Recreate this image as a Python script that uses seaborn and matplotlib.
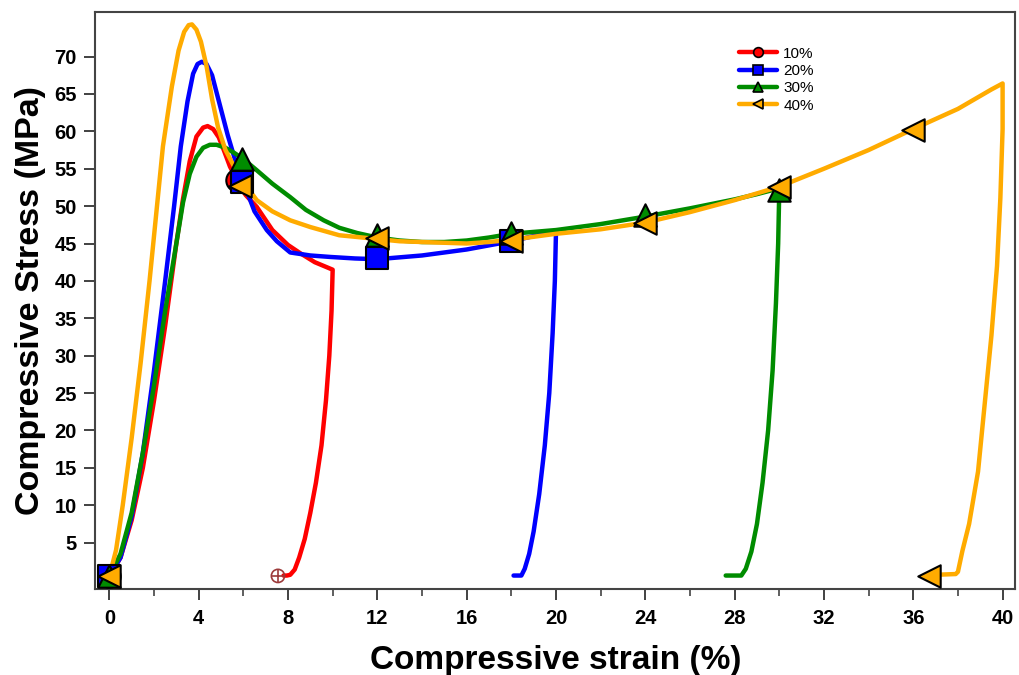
import numpy as np
import pandas as pd
import matplotlib
matplotlib.use("Agg")
import matplotlib.pyplot as plt
from matplotlib.lines import Line2D
from matplotlib.ticker import MultipleLocator, FixedLocator
import seaborn as sns

# ---------------- data ----------------
series_names = ["10%", "20%", "30%", "40%"]
series_colors = ["#ff0000", "#0000ff", "#008c00", "#ffab00"]
series_markers = ["o", "s", "^", "<"]

strain_10 = [0, 0.5, 1, 1.5, 2, 2.5, 3.0, 3.3, 3.6, 3.9, 4.2, 4.4, 4.65, 4.9, 5.15, 5.4, 5.7, 6.1, 6.6, 7.3, 8.0, 8.55, 9.2, 10.0,
             10.0, 9.95, 9.85, 9.7, 9.5, 9.25, 9.0, 8.75, 8.5, 8.3, 8.1, 7.95, 7.8]
stress_10 = [0.5, 3, 8, 15, 24, 34, 45, 51, 56, 59.3, 60.5, 60.7, 60.3, 59.2, 57.3, 55.3, 53.5, 51.5, 49.9, 46.8, 44.8, 43.7, 42.5, 41.5,
             41.5, 36, 30, 24, 18, 13, 9, 5.5, 3.0, 1.4, 0.7, 0.6, 0.6]

strain_20 = [0, 0.5, 1, 1.5, 2, 2.5, 2.9, 3.2, 3.5, 3.75, 3.95, 4.14, 4.35, 4.6, 4.95, 5.3, 5.65, 6.0, 6.5, 7.05, 7.5, 8.1, 9.0, 9.9, 11, 12,
             14, 16, 18, 19, 19.9, 20.0, 19.95, 19.85, 19.7, 19.5, 19.25, 19.0, 18.8, 18.6, 18.45, 18.1]
stress_20 = [0.5, 3, 8.5, 17, 28, 40, 50, 58, 64, 67.7, 69.0, 69.3, 69.0, 67.5, 63.5, 59.5, 56, 53.2, 49.3, 46.8, 45.3, 43.8, 43.4, 43.2, 43.0, 42.9,
             43.4, 44.2, 45.3, 46.0, 46.5, 46.5, 40, 33, 25, 18, 11.5, 6.5, 3.5, 1.5, 0.6, 0.6]

strain_30 = [0, 0.5, 1, 1.5, 2, 2.5, 3, 3.3, 3.6, 3.9, 4.2, 4.5, 4.8, 5.2, 5.6, 6.0, 6.6, 7.3, 8.1, 8.8, 9.6, 10.3, 11.1, 12,
             13, 14, 15, 16, 17, 18, 20, 22, 24, 26, 28, 29, 29.9,
             30.0, 29.95, 29.85, 29.7, 29.5, 29.25, 29.0, 28.75, 28.5, 28.3, 27.6]
stress_30 = [0.5, 3.5, 9, 17, 26, 36, 45, 50.5, 54.3, 56.6, 57.8, 58.2, 58.2, 57.8, 57.1, 56.3, 54.8, 53.0, 51.2, 49.5, 48.1, 47.1, 46.4, 45.8,
             45.4, 45.2, 45.2, 45.4, 45.8, 46.3, 46.8, 47.6, 48.6, 49.7, 50.9, 51.6, 52.3,
             52.3, 45, 37, 28, 20, 13, 7.5, 3.8, 1.5, 0.6, 0.6]

strain_40 = [0, 0.3, 0.6, 1.0, 1.4, 1.8, 2.1, 2.4, 2.8, 3.1, 3.35, 3.55, 3.7, 3.9, 4.1, 4.36, 4.6, 4.87, 5.2, 5.55, 6.0, 6.6, 7.3, 8.1, 9.0, 10.3,
             11, 12, 13, 14, 16, 17, 18, 20, 22, 24, 26, 28, 30, 32, 34, 36, 38, 39.5, 40.0,
             40.0, 39.9, 39.75, 39.5, 39.2, 38.9, 38.5, 38.2, 38.0, 37.9, 37.0]
stress_40 = [0.5, 4, 10, 19, 29, 40, 49, 58, 66, 70.8, 73.3, 74.2, 74.3, 73.6, 72, 68.6, 64.3, 60.5, 57.5, 55.5, 53.2, 50.8, 49.3, 48.1, 47.2, 46.1,
             45.9, 45.6, 45.3, 45.2, 45.0, 45.2, 45.5, 46.3, 46.9, 47.8, 49.2, 50.8, 52.6, 55.0, 57.5, 60.3, 63.0, 65.6, 66.4,
             60.3, 51.1, 42.0, 32.7, 23.6, 14.5, 7.5, 3.9, 1.1, 0.8, 0.7]

# marker positions
mark_x_10 = [0, 5.7]
mark_y_10 = [0.5, 53.5]
mark_x_20 = [0, 5.94, 12, 18]
mark_y_20 = [0.5, 53.2, 43.1, 45.3]
mark_x_30 = [0, 5.94, 12, 18, 24, 30]
mark_y_30 = [0.5, 56.3, 46.2, 46.4, 48.8, 52.2]
mark_x_40 = [0, 5.85, 12, 18, 24, 30, 36, 36.7]
mark_y_40 = [0.5, 52.7, 45.8, 45.4, 47.8, 52.6, 60.2, 0.6]

end_mark_x = [7.55]
end_mark_y = [0.55]

x_ticks = [0, 4, 8, 12, 16, 20, 24, 28, 32, 36, 40]
y_ticks = [5, 10, 15, 20, 25, 30, 35, 40, 45, 50, 55, 60, 65, 70]

# ---------------- plot ----------------
sns.set_theme(style="ticks")
plt.rcParams["font.family"] = ["Liberation Sans", "DejaVu Sans"]
plt.rcParams["text.color"] = "black"
plt.rcParams["axes.labelcolor"] = "black"

fig = plt.figure(figsize=(10.19, 6.75), dpi=100)
ax = fig.add_axes([0.0935, 0.1274, 0.9029, 0.8553])

curves = [(strain_10, stress_10), (strain_20, stress_20), (strain_30, stress_30), (strain_40, stress_40)]
marks = [(mark_x_10, mark_y_10), (mark_x_20, mark_y_20), (mark_x_30, mark_y_30), (mark_x_40, mark_y_40)]

for i, ((sx, sy), name, col) in enumerate(zip(curves, series_names, series_colors)):
    df = pd.DataFrame({"strain": sx, "stress": sy})
    sns.lineplot(data=df, x="strain", y="stress", sort=False, estimator=None,
                 color=col, linewidth=3.2, ax=ax, zorder=2 + i)

for i, ((mx, my), col, mk) in enumerate(zip(marks, series_colors, series_markers)):
    dfm = pd.DataFrame({"strain": mx, "stress": my})
    sns.scatterplot(data=dfm, x="strain", y="stress", marker=mk, color=col, s=260,
                    edgecolor="black", linewidth=1.5, ax=ax, zorder=10 + i)

dfe = pd.DataFrame({"strain": end_mark_x, "stress": end_mark_y})
sns.scatterplot(data=dfe, x="strain", y="stress", marker="o", s=90, facecolor="none",
                edgecolor="#9c3a3a", linewidth=1.2, ax=ax, zorder=20)
sns.scatterplot(data=dfe, x="strain", y="stress", marker="+", s=90, color="#9c3a3a",
                linewidth=1.2, ax=ax, zorder=21)

ax.set_xlim(-0.63, 40.57)
ax.set_ylim(-1.2, 76.0)
ax.xaxis.set_major_locator(FixedLocator(x_ticks))
ax.xaxis.set_minor_locator(MultipleLocator(2))
ax.yaxis.set_major_locator(FixedLocator(y_ticks))

ax.tick_params(axis="both", which="major", direction="out", length=7.8, width=1.3,
               colors="#333333", labelcolor="black", labelsize=14.5)
ax.tick_params(axis="x", which="major", pad=6.5)
ax.tick_params(axis="y", which="major", pad=5.5)
ax.tick_params(axis="x", which="minor", direction="out", length=5, width=1.1, colors="#333333")
for lbl in ax.get_xticklabels() + ax.get_yticklabels():
    lbl.set_fontweight("bold")

for sp in ax.spines.values():
    sp.set_visible(True)
    sp.set_color("#444444")
    sp.set_linewidth(1.5)

ax.set_xlabel("Compressive strain (%)", fontsize=24, fontweight="bold", labelpad=12, color="black")
ax.set_ylabel("Compressive Stress (MPa)", fontsize=24.5, fontweight="bold", labelpad=6, color="black")
ax.grid(False)

handles = [Line2D([0], [0], color=c, lw=3.2, marker=m, markersize=7,
                  markerfacecolor=c, markeredgecolor="black", markeredgewidth=1.2)
           for c, m in zip(series_colors, series_markers)]
ax.legend(handles, series_names, loc="upper left", bbox_to_anchor=(0.693, 0.95),
          frameon=False, fontsize=11, handlelength=2.5, handletextpad=0.4,
          labelspacing=0.22, borderaxespad=0)

fig.savefig("out.png", dpi=100)
